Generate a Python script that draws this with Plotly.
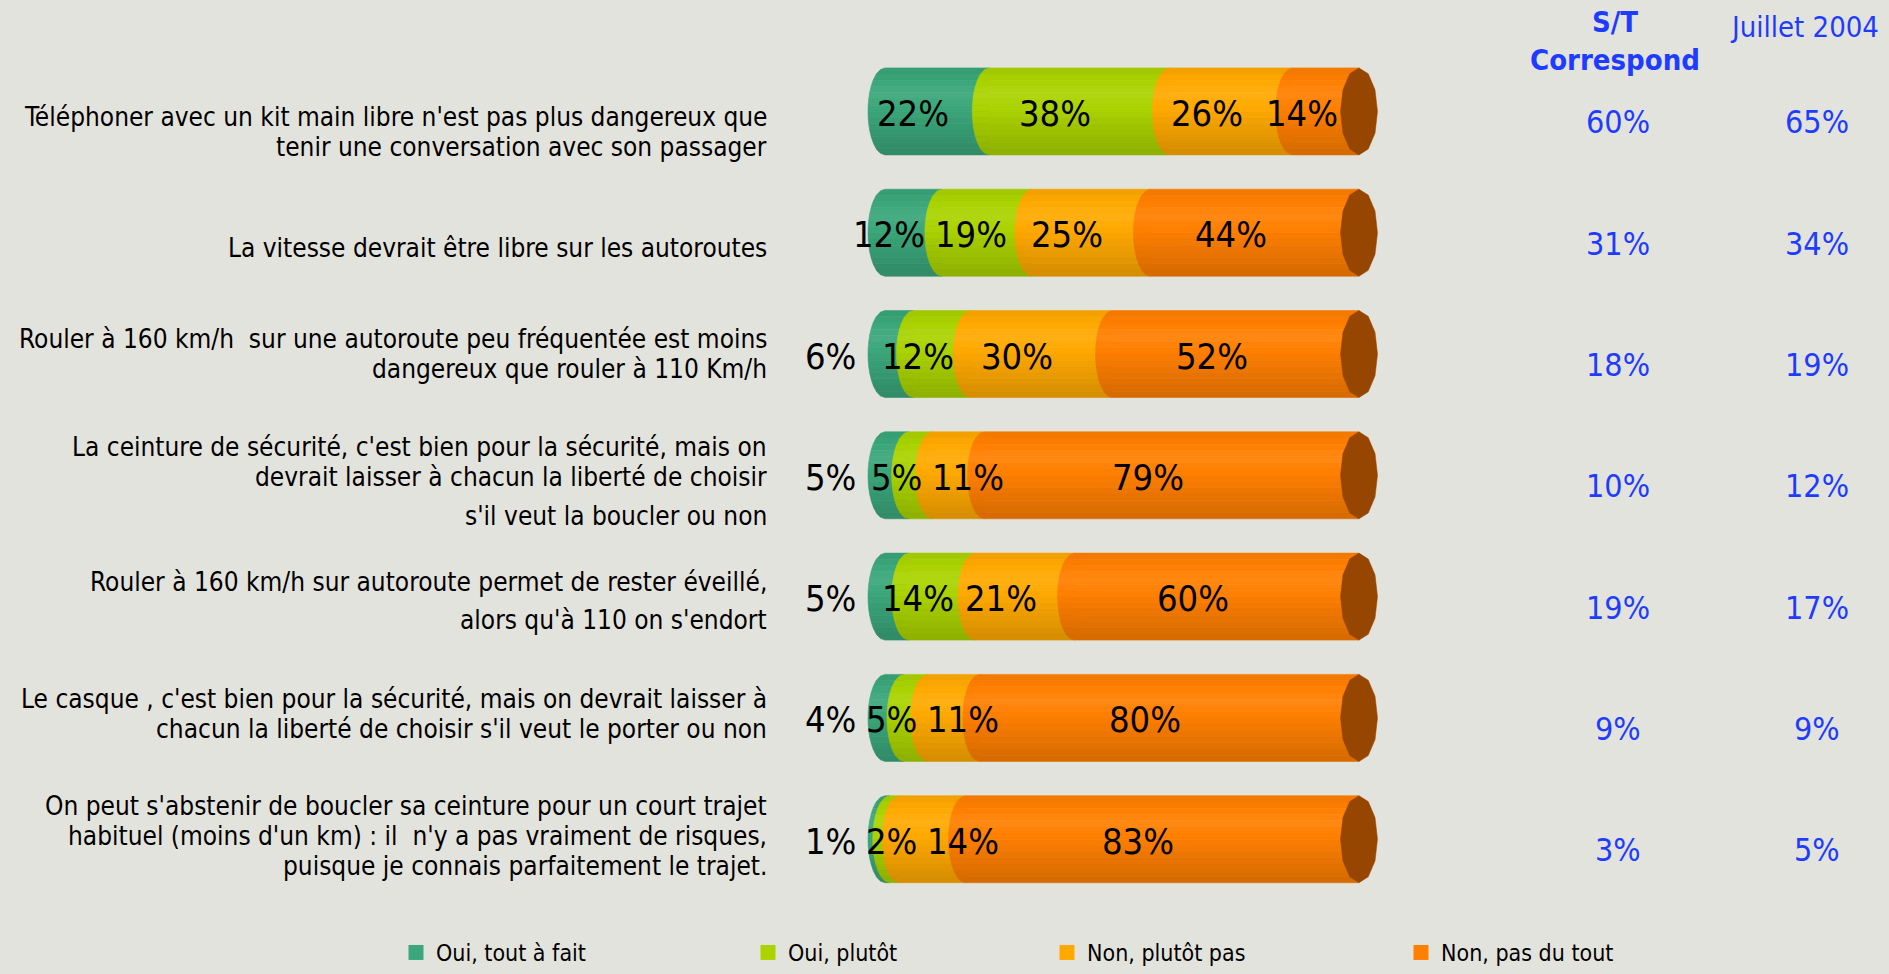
import numpy as np
import plotly.graph_objects as go

# ---------------- data ----------------
statements = [
    "Téléphoner avec un kit main libre n'est pas plus dangereux que<br>tenir une conversation avec son passager",
    "La vitesse devrait être libre sur les autoroutes",
    "Rouler à 160 km/h \u00a0sur une autoroute peu fréquentée est moins<br>dangereux que rouler à 110 Km/h",
    "La ceinture de sécurité, c'est bien pour la sécurité, mais on<br>devrait laisser à chacun la liberté de choisir<br>s'il veut la boucler ou non",
    "Rouler à 160 km/h sur autoroute permet de rester éveillé,<br>alors qu'à 110 on s'endort",
    "Le casque , c'est bien pour la sécurité, mais on devrait laisser à<br>chacun la liberté de choisir s'il veut le porter ou non",
    "On peut s'abstenir de boucler sa ceinture pour un court trajet<br>habituel (moins d'un km) : il \u00a0n'y a pas vraiment de risques,<br>puisque je connais parfaitement le trajet.",
]
series_names = ["Oui, tout à fait", "Oui, plutôt", "Non, plutôt pas", "Non, pas du tout"]
oui_tout_a_fait = [22, 12, 6, 5, 5, 4, 1]
oui_plutot = [38, 19, 12, 5, 14, 5, 2]
non_plutot_pas = [26, 25, 30, 11, 21, 11, 14]
non_pas_du_tout = [14, 44, 52, 79, 60, 80, 83]
st_correspond = [60, 31, 18, 10, 19, 9, 3]
juillet_2004 = [65, 34, 19, 12, 17, 9, 5]
col_headers = ["S/T<br>Correspond", "Juillet 2004"]

series = [oui_tout_a_fait, oui_plutot, non_plutot_pas, non_pas_du_tout]

# ---------------- style / layout ----------------
W, H = 1889, 974
BG = "#E3E3DE"
FONT = "DejaVu Sans Condensed, Liberation Sans, sans-serif"
BLUE = "#1E3CFF"
BASE_COLORS = [(58, 166, 122), (170, 211, 0), (255, 169, 0), (255, 127, 0)]
CAP_COLOR = "#964600"

X_ZERO_PX = 885.0
PX_PER_PCT = 4.74
ROW0_PX = 111.4
ROW_STEP_PX = 121.3
BAR_HALF_PX = 43.5
BULGE_PX = 17.0
CAP_RX_PX = 18.5
N_STRIPS = 14

x_range = [-X_ZERO_PX / PX_PER_PCT, (W - X_ZERO_PX) / PX_PER_PCT]
y_top = -ROW0_PX / ROW_STEP_PX
y_bottom = y_top + H / ROW_STEP_PX
h = BAR_HALF_PX / ROW_STEP_PX
rx = BULGE_PX / PX_PER_PCT
cap_rx = CAP_RX_PX / PX_PER_PCT


def px_to_x(px):
    return (px - X_ZERO_PX) / PX_PER_PCT


def x_to_px(x):
    return X_ZERO_PX + x * PX_PER_PCT


def shade(rgb, t):
    # cylinder-like vertical shading, t: 0 top -> 1 bottom
    if t < 0.3:
        f = 0.94 + (1.05 - 0.94) * t / 0.3
    else:
        f = 1.05 - (1.05 - 0.83) * (t - 0.3) / 0.7
    out = []
    for c in rgb:
        if f >= 1:
            v = c + (255 - c) * (f - 1) * 1.6
        else:
            v = c * f
        out.append(int(max(0, min(255, round(v)))))
    return "rgb(%d,%d,%d)" % tuple(out)


def strip_poly(x0, x1, yc, ta, tb, bulge):
    ts = np.linspace(ta, tb, 5)
    ys = yc - h + 2 * h * ts
    u = (ys - yc) / h
    xl = x0 - bulge * np.sqrt(np.clip(1 - u ** 2, 0, 1))
    xs = [x1] + list(xl) + [x1, x1]
    yy = [ys[0]] + list(ys) + [ys[-1], ys[0]]
    return xs, yy


fig = go.Figure()

n_rows = len(statements)
t_edges = np.linspace(0, 1, N_STRIPS + 1)

# stacked cylinder segments
for si, vals in enumerate(series):
    for k in range(N_STRIPS):
        xs_all, ys_all = [], []
        for r in range(n_rows):
            start = sum(series[j][r] for j in range(si))
            end = start + vals[r]
            xs, ys = strip_poly(start, end, r, t_edges[k], t_edges[k + 1], rx)
            xs_all += xs + [None]
            ys_all += ys + [None]
        col = shade(BASE_COLORS[si], (t_edges[k] + t_edges[k + 1]) / 2)
        fig.add_trace(go.Scatter(
            x=xs_all, y=ys_all, mode="lines", fill="toself",
            fillcolor=col, line=dict(width=0.6, color=col),
            hoverinfo="skip", showlegend=False))

# end caps at 100 %
cx, cy = [], []
ang = np.linspace(0, 2 * np.pi, 13)
for r in range(n_rows):
    total = sum(s[r] for s in series)
    cx += list(total + cap_rx * np.cos(ang)) + [None]
    cy += list(r + h * np.sin(ang)) + [None]
fig.add_trace(go.Scatter(x=cx, y=cy, mode="lines", fill="toself",
                         fillcolor=CAP_COLOR, line=dict(width=0.5, color=CAP_COLOR),
                         hoverinfo="skip", showlegend=False))

# legend entries (one legend box per item)
legend_keys = ["legend", "legend2", "legend3", "legend4"]
for si, name in enumerate(series_names):
    fig.add_trace(go.Scatter(
        x=[None], y=[None], mode="markers", name=name,
        marker=dict(symbol="square", size=15, color="rgb(%d,%d,%d)" % BASE_COLORS[si]),
        legend=legend_keys[si], showlegend=True))

annotations = []

# data labels on the bars
LABEL_FONT = 36
GAP = 8
for r in range(n_rows):
    pos = []
    widths = []
    start = 0
    for si, vals in enumerate(series):
        v = vals[r]
        txt = "%d%%" % v
        w = LABEL_FONT * (0.57 * (len(txt) - 1) + 0.9)
        c = x_to_px(start + v / 2) - 24
        if si == 0 and v < 7:
            c = x_to_px(0) - 28 - w / 2
        if pos:
            min_left = pos[-1] + widths[-1] / 2 + GAP
            if c - w / 2 < min_left:
                c = min_left + w / 2
        pos.append(c)
        widths.append(w)
        annotations.append(dict(
            x=px_to_x(c), y=r, xref="x", yref="y", text=txt, showarrow=False,
            xanchor="center", yanchor="middle", yshift=-2,
            font=dict(size=LABEL_FONT, family=FONT, color="black")))
        start += v

# statement labels (left)
LABEL_SHIFT = [21, 15, 0, 6, 4, -4, -3]
LINE_EXTRA = {3: [-4, -4, 5], 4: [-4, 4]}
LINE_H = 30
for r, s in enumerate(statements):
    lines = s.split("<br>")
    n = len(lines)
    extra = LINE_EXTRA.get(r, [0] * n)
    for k, line in enumerate(lines):
        dy = LABEL_SHIFT[r] + (k - (n - 1) / 2) * LINE_H + extra[k]
        annotations.append(dict(
            x=769 / W, y=r, xref="paper", yref="y", text=line, showarrow=False,
            xanchor="right", yanchor="middle", yshift=-dy,
            font=dict(size=26, family=FONT, color="black")))

# right columns
for r in range(n_rows):
    annotations.append(dict(
        x=1618 / W, y=r, xref="paper", yref="y", text="%d%%" % st_correspond[r],
        showarrow=False, xanchor="center", yanchor="middle", yshift=-11,
        font=dict(size=32, family=FONT, color=BLUE)))
    annotations.append(dict(
        x=1817 / W, y=r, xref="paper", yref="y", text="%d%%" % juillet_2004[r],
        showarrow=False, xanchor="center", yanchor="middle", yshift=-11,
        font=dict(size=32, family=FONT, color=BLUE)))

annotations.append(dict(
    x=1615 / W, y=1 - 41 / H, xref="paper", yref="paper",
    text="<b>" + col_headers[0] + "</b>", showarrow=False,
    xanchor="center", yanchor="middle", align="center",
    font=dict(size=29, family=FONT, color=BLUE)))
annotations.append(dict(
    x=1804 / W, y=1 - 27 / H, xref="paper", yref="paper",
    text=col_headers[1], showarrow=False, xanchor="center", yanchor="middle",
    font=dict(size=29, family=FONT, color=BLUE)))

legend_text_px = [437, 789, 1088, 1442]
legend_common = dict(orientation="h", yanchor="bottom", xanchor="left",
                     bgcolor="rgba(0,0,0,0)", borderwidth=0,
                     font=dict(size=23, family=FONT, color="black"),
                     itemwidth=30)
layout_legends = {}
for i, key in enumerate(legend_keys):
    d = dict(legend_common)
    d["x"] = (legend_text_px[i] - 41) / W
    d["y"] = 0
    layout_legends[key] = d

fig.update_layout(
    width=W, height=H,
    margin=dict(l=0, r=0, t=0, b=0),
    paper_bgcolor=BG, plot_bgcolor=BG,
    xaxis=dict(range=x_range, visible=False, fixedrange=True),
    yaxis=dict(range=[y_bottom, y_top], visible=False, fixedrange=True),
    annotations=annotations,
    showlegend=True,
    **layout_legends,
)

fig.write_html("out.html", config={"displayModeBar": False},
               post_script="document.body.style.margin='0';document.body.style.overflow='hidden';")
